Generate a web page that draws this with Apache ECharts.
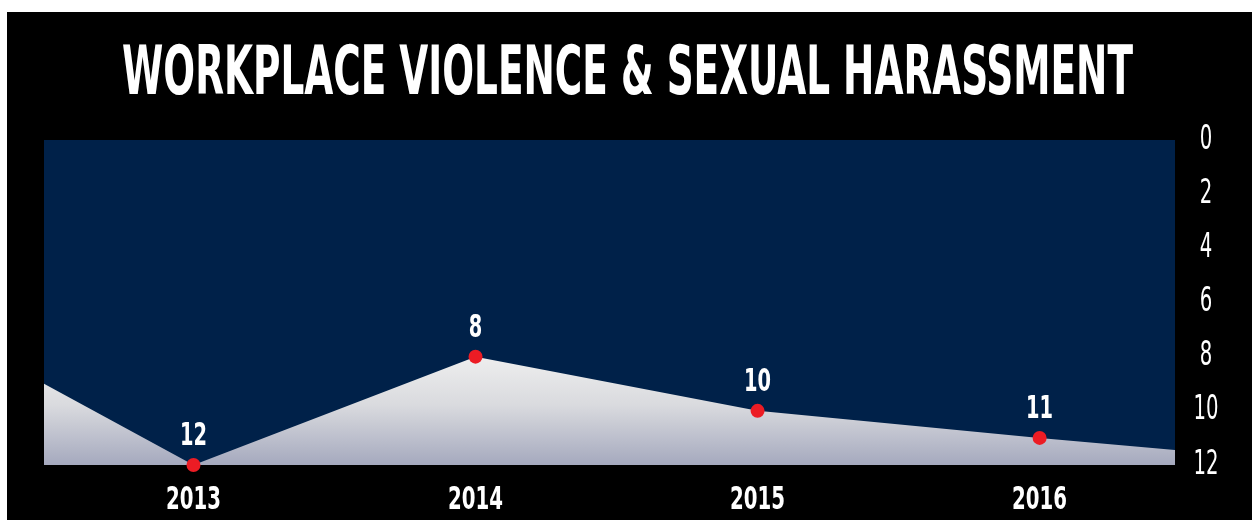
<!DOCTYPE html>
<html>
<head>
<meta charset="utf-8">
<script src="https://cdn.jsdelivr.net/npm/echarts@6/dist/echarts.min.js"></script>
<style>
  html, body { margin: 0; padding: 0; background: #ffffff; width: 1252px; height: 520px; overflow: hidden; }
  #chart { position: absolute; left: 7px; top: 12px; width: 1245px; height: 508px; }
</style>
</head>
<body>
<div id="chart"></div>
<script>
// ---- data ----
const titleText = 'WORKPLACE VIOLENCE & SEXUAL HARASSMENT';
const categories = [2013, 2014, 2015, 2016];
const values = [12, 8, 10, 11];
// the filled shape runs past the first/last year to the plot edges
const edgeYears = [2012.47, 2016.48];
const edgeValues = [9.0, 11.45];
const yTicks = [0, 2, 4, 6, 8, 10, 12];

// ---- build ----
const FONT = '"DejaVu Sans Condensed", "DejaVu Sans", sans-serif';
const areaData = [[edgeYears[0], edgeValues[0]]]
  .concat(categories.map((c, i) => [c, values[i]]))
  .concat([[edgeYears[1], edgeValues[1]]]);
const pointData = categories.map((c, i) => [c, values[i]]);

const cv = document.createElement('canvas').getContext('2d');
function measure(font, text) { cv.font = font; return cv.measureText(text).width; }

const titleFont = 'bold 67px ' + FONT;
const titleScale = 1011 / measure(titleFont, titleText);
const boldFont = 'bold 32px ' + FONT;
const xLabScale = 55 / measure(boldFont, '2013');
const dataLabScale = 27 / measure(boldFont, '12');
const lightFont = 'normal 33px ' + FONT;
const yLabScale = 25 / measure(lightFont, '12');

const chart = echarts.init(document.getElementById('chart'), null, { renderer: 'canvas' });
chart.setOption({
  backgroundColor: '#000000',
  animation: false,
  grid: {
    show: true,
    left: 37,
    top: 128,
    width: 1131,
    height: 325,
    backgroundColor: '#002149',
    borderWidth: 0,
    containLabel: false
  },
  xAxis: {
    type: 'value',
    min: edgeYears[0],
    max: edgeYears[1],
    splitLine: { show: false },
    axisLine: { show: false },
    axisTick: { show: false },
    axisLabel: { show: false }
  },
  yAxis: {
    type: 'value',
    position: 'right',
    inverse: true,
    min: 0,
    max: 12,
    interval: 2,
    splitLine: { show: false },
    axisLine: { show: false },
    axisTick: { show: false },
    axisLabel: { show: false }
  },
  series: [
    {
      type: 'line',
      data: areaData,
      symbol: 'none',
      lineStyle: { width: 0 },
      areaStyle: {
        origin: 'end',
        opacity: 1,
        color: new echarts.graphic.LinearGradient(0, 0, 0, 1, [
          { offset: 0, color: '#eeeeee' },
          { offset: 0.45, color: '#d9dade' },
          { offset: 1, color: '#a5a9be' }
        ])
      },
      z: 2
    },
    {
      type: 'scatter',
      data: pointData,
      symbol: 'circle',
      symbolSize: 14,
      itemStyle: { color: '#ec1c24', opacity: 1 },
      z: 5
    }
  ]
});

// ---- texts placed through the chart's own scales ----
const grid = chart.getModel().getComponent('grid', 0).coordinateSystem.getRect();
function vfix(size) { return size * 0.093; }
const gfx = [];
gfx.push({
  type: 'text', x: 620.5, y: 58 + vfix(67), scaleX: titleScale, z: 10,
  style: { text: titleText, fill: '#ffffff', font: titleFont, align: 'center', verticalAlign: 'middle' }
});
categories.forEach((c, i) => {
  const px = chart.convertToPixel({ xAxisIndex: 0 }, c);
  gfx.push({
    type: 'text', x: px, y: grid.y + grid.height + 33 + vfix(32), scaleX: xLabScale, z: 10,
    style: { text: String(c), fill: '#ffffff', font: boldFont, align: 'center', verticalAlign: 'middle' }
  });
  const pp = chart.convertToPixel({ xAxisIndex: 0, yAxisIndex: 0 }, [c, values[i]]);
  gfx.push({
    type: 'text', x: pp[0], y: pp[1] - 31 + vfix(32), scaleX: dataLabScale, z: 10,
    style: { text: String(values[i]), fill: '#ffffff', font: boldFont, align: 'center', verticalAlign: 'middle' }
  });
});
yTicks.forEach(v => {
  const py = chart.convertToPixel({ yAxisIndex: 0 }, v);
  gfx.push({
    type: 'text', x: grid.x + grid.width + 31, y: py - 3 + vfix(33), scaleX: yLabScale, z: 10,
    style: { text: String(v), fill: '#ffffff', font: lightFont, align: 'center', verticalAlign: 'middle' }
  });
});
chart.setOption({ graphic: gfx });
</script>
</body>
</html>
